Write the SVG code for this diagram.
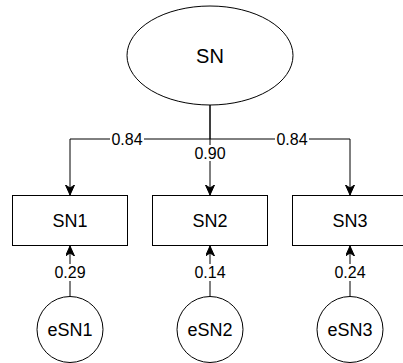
<svg xmlns="http://www.w3.org/2000/svg" width="403" height="363" viewBox="0 0 403 363">
  <style>
    .shape { fill: #ffffff; stroke: #000000; stroke-width: 1; }
    .edge { fill: none; stroke: #000000; stroke-width: 1; }
    .label { font-family: "Liberation Sans", Arial, sans-serif; fill: #000000; text-anchor: middle; dominant-baseline: central; }
    .node-text { font-size: 18px; }
    .edge-text { font-size: 16px; }
    .bg { fill: #ffffff; }
  </style>
  <defs>
    <marker id="arrow" markerUnits="userSpaceOnUse" markerWidth="12" markerHeight="10" refX="10" refY="4.5" orient="auto">
      <path d="M0,0 L10,4.5 L0,9 L3,4.5 Z" fill="#000000" stroke="#000000" stroke-width="1"/>
    </marker>
  </defs>

  <rect width="403" height="363" fill="#ffffff"/>

  <!-- connectors -->
  <g id="connectors">
    <path class="edge" d="M210,105 V139 H70 V195" marker-end="url(#arrow)"/>
    <path class="edge" d="M210,105 V195" marker-end="url(#arrow)"/>
    <path class="edge" d="M210,139 H350 V195" marker-end="url(#arrow)"/>
    <path class="edge" d="M70,296 V246" marker-end="url(#arrow)"/>
    <path class="edge" d="M210,296 V246" marker-end="url(#arrow)"/>
    <path class="edge" d="M350,296 V246" marker-end="url(#arrow)"/>

    <!-- loading labels -->
    <rect class="bg" x="110" y="131" width="34" height="16"/>
    <text class="label edge-text" x="127" y="139">0.84</text>
    <rect class="bg" x="193" y="145" width="34" height="16"/>
    <text class="label edge-text" x="210" y="153">0.90</text>
    <rect class="bg" x="275" y="131" width="34" height="16"/>
    <text class="label edge-text" x="292" y="139">0.84</text>

    <!-- error labels -->
    <rect class="bg" x="53" y="264" width="34" height="17"/>
    <text class="label edge-text" x="70" y="272">0.29</text>
    <rect class="bg" x="193" y="264" width="34" height="17"/>
    <text class="label edge-text" x="210" y="272">0.14</text>
    <rect class="bg" x="333" y="264" width="34" height="17"/>
    <text class="label edge-text" x="350" y="272">0.24</text>
  </g>

  <!-- latent factor -->
  <g id="SN">
    <ellipse class="shape" cx="210" cy="55.5" rx="83" ry="49.5"/>
    <text class="label node-text" x="210" y="56" style="font-size:20px">SN</text>
  </g>

  <!-- indicators -->
  <g id="SN1">
    <rect class="shape" x="12.5" y="195.5" width="115" height="50"/>
    <text class="label node-text" x="70" y="221">SN1</text>
  </g>
  <g id="SN2">
    <rect class="shape" x="152.5" y="195.5" width="115" height="50"/>
    <text class="label node-text" x="210" y="221">SN2</text>
  </g>
  <g id="SN3">
    <rect class="shape" x="292.5" y="195.5" width="115" height="50"/>
    <text class="label node-text" x="350" y="221">SN3</text>
  </g>

  <!-- error terms -->
  <g id="eSN1">
    <circle class="shape" cx="70" cy="329.5" r="33"/>
    <text class="label node-text" x="70" y="330">eSN1</text>
  </g>
  <g id="eSN2">
    <circle class="shape" cx="210" cy="329.5" r="33"/>
    <text class="label node-text" x="210" y="330">eSN2</text>
  </g>
  <g id="eSN3">
    <circle class="shape" cx="350" cy="329.5" r="33"/>
    <text class="label node-text" x="350" y="330">eSN3</text>
  </g>
</svg>
